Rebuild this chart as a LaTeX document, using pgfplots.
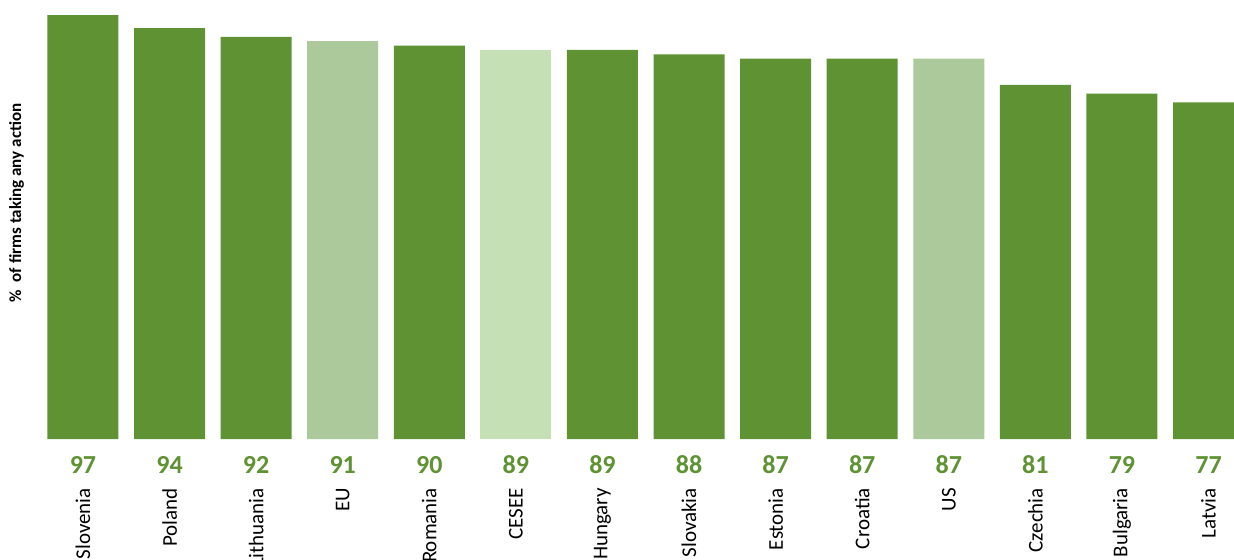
\documentclass[border=0pt]{standalone}
\usepackage{pgfplots}
\pgfplotsset{compat=1.18}
\usepackage{fontspec}
\setmainfont{Carlito}
\definecolor{dkg}{HTML}{5E9232}
\definecolor{mdg}{HTML}{ABC99A}
\definecolor{ltg}{HTML}{C5E0B4}
\newcommand\lab[2]{\begin{tabular}[t]{@{}c@{}}\fontsize{26bp}{31bp}\selectfont\bfseries\color{dkg}#1\\[5.3bp]\rotatebox{90}{\fontsize{21bp}{25bp}\selectfont #2}\end{tabular}}
\begin{document}
\begin{tikzpicture}
\begin{axis}[
  scale only axis, width=1212.1bp, height=437.1bp,
  xmin=-0.5, xmax=13.5, ymin=0, ymax=100,
  ybar, bar width=71bp, bar shift=0pt,
  axis line style={draw=none}, tick style={draw=none}, major tick length=0pt,
  ytick=\empty,
  xtick={0,...,13},
  xticklabels={{\lab{97}{Slovenia}},{\lab{94}{Poland}},{\lab{92}{Lithuania}},{\lab{91}{EU}},{\lab{90}{Romania}},{\lab{89}{CESEE}},{\lab{89}{Hungary}},{\lab{88}{Slovakia}},{\lab{87}{Estonia}},{\lab{87}{Croatia}},{\lab{87}{US}},{\lab{81}{Czechia}},{\lab{79}{Bulgaria}},{\lab{77}{Latvia}}},
  xticklabel style={font=\fontsize{26bp}{31bp}\selectfont, anchor=north, inner sep=0pt, yshift=-12.7bp},
  ylabel={\%\ \ of firms taking any action},
  ylabel style={at={(axis description cs:-0.0191,0.54)}, anchor=center, font=\fontsize{17bp}{20bp}\selectfont\bfseries},
  clip=false,
]
\addplot[fill=dkg, draw=none] coordinates {(0,97)(1,94)(2,92)(4,90)(6,89)(7,88)(8,87)(9,87)(11,81)(12,79)(13,77)};
\addplot[fill=mdg, draw=none] coordinates {(3,91)(10,87)};
\addplot[fill=ltg, draw=none] coordinates {(5,89)};
\coordinate (O) at (rel axis cs:0,0);
\end{axis}
\pgfresetboundingbox
\path[use as bounding box] ([shift={(-39.7bp,-121bp)}]O) rectangle ([shift={(1194.3bp,439bp)}]O);
\end{tikzpicture}
\end{document}
